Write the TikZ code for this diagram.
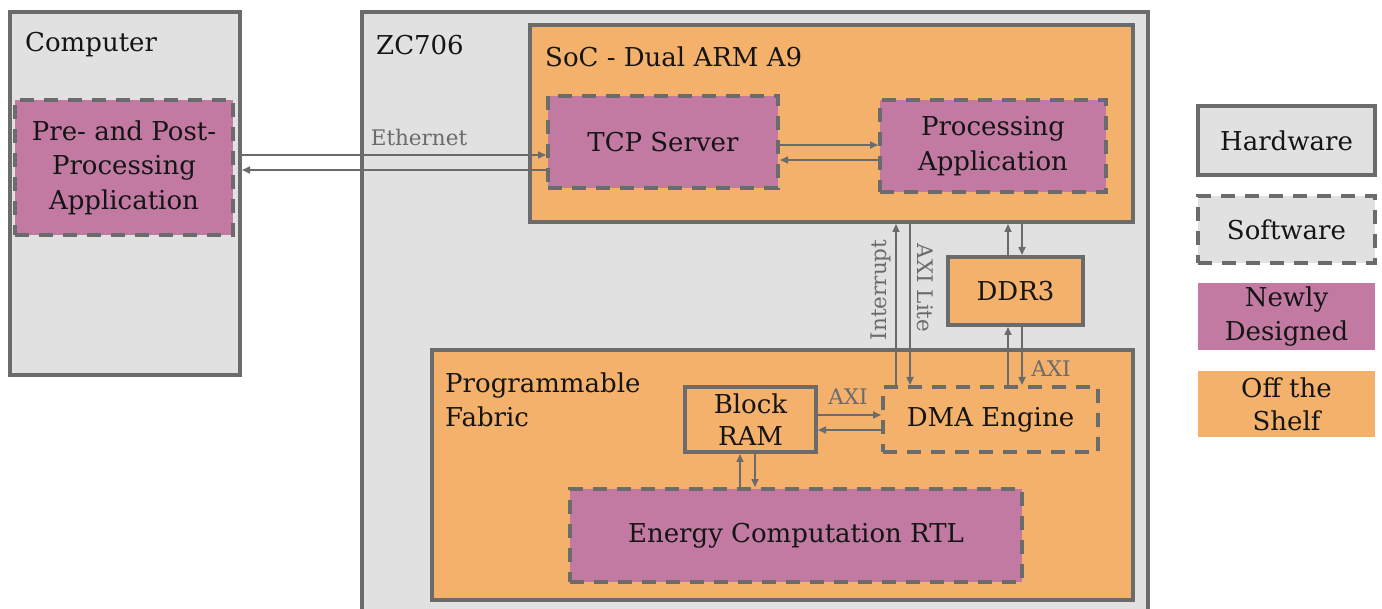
\documentclass[tikz,border=0pt]{standalone}
\usepackage{fontspec}
\setmainfont{DejaVu Serif}
\usetikzlibrary{arrows.meta}
\definecolor{hwgray}{HTML}{E1E1E1}
\definecolor{edge}{HTML}{6B6B6B}
\definecolor{orng}{HTML}{F4B16B}
\definecolor{purp}{HTML}{C27AA2}
\definecolor{txt}{HTML}{151515}
\begin{document}
\begin{tikzpicture}[x=1pt,y=-1pt,
  box/.style={line width=4pt, inner sep=0pt, align=center, text=txt, font=\fontsize{26}{34.5}\selectfont},
  hw/.style={box, draw=edge},
  sw/.style={box, draw=edge, dash pattern=on 14pt off 10pt},
  title/.style={anchor=west, text=txt, font=\fontsize{26}{34}\selectfont, inner sep=0pt, align=left},
  arr/.style={draw=edge, line width=1.6pt, -{Triangle[length=8pt,width=7pt]}},
  lbl/.style={text=edge, font=\fontsize{21.5}{24}\selectfont, inner sep=0pt}]
\useasboundingbox (0,0) rectangle (1382,609);
\fill[white] (0,0) rectangle (1382,609);
% Computer
\node[hw, fill=hwgray, minimum width=230pt, minimum height=363pt] (comp) at (125,193.5) {};
\node[title] (compt) at (25,45) {Computer};
\node[sw, fill=purp, minimum width=218pt, minimum height=135pt] (pre) at (124,167.5) {Pre- and Post-\\Processing\\Application};
% ZC706
\node[hw, fill=hwgray, minimum width=786pt, minimum height=608pt] (zc) at (755,316) {};
\node[title] (zct) at (376,45) {ZC706};
% SoC
\node[hw, fill=orng, minimum width=603pt, minimum height=197pt] (soc) at (831.5,123.5) {};
\node[title] (soct) at (545,57) {SoC - Dual ARM A9};
\node[sw, fill=purp, minimum width=230pt, minimum height=92pt] (tcp) at (663,142) {TCP Server};
\node[sw, fill=purp, minimum width=226pt, minimum height=92pt] (proc) at (993,146) {Processing\\Application};
% DDR3
\node[hw, fill=orng, minimum width=135pt, minimum height=68pt] (ddr) at (1015.5,291) {DDR3};
% Programmable fabric
\node[hw, fill=orng, minimum width=701pt, minimum height=250pt] (pf) at (782.5,475) {};
\node[title] (pft) at (445,400) {Programmable\\Fabric};
\node[hw, fill=orng, minimum width=131pt, minimum height=65pt, font=\fontsize{26}{32}\selectfont] (bram) at (750.5,419.5) {Block\\RAM};
\node[sw, fill=orng, minimum width=215pt, minimum height=65pt] (dma) at (990.5,419.5) {DMA Engine};
\node[sw, fill=purp, minimum width=452pt, minimum height=93pt] (rtl) at (796,535.5) {Energy Computation RTL};
% Legend
\node[hw, fill=hwgray, minimum width=177pt, minimum height=69pt] (lhw) at (1286.5,140.5) {Hardware};
\node[sw, fill=hwgray, minimum width=177pt, minimum height=67pt] (lsw) at (1286.5,229.5) {Software};
\node[box, fill=purp, minimum width=177pt, minimum height=67pt] (lnew) at (1286.5,316.5) {Newly\\Designed};
\node[box, fill=orng, minimum width=177pt, minimum height=66pt, font=\fontsize{26}{33}\selectfont] (loff) at (1286.5,404) {Off the\\Shelf};
% level coordinates
\coordinate (yE1) at (0,155); \coordinate (yE2) at (0,170);
\coordinate (yT1) at (0,145); \coordinate (yT2) at (0,160);
\coordinate (yB1) at (0,415); \coordinate (yB2) at (0,430);
\coordinate (xI) at (896,0); \coordinate (xL) at (910,0);
\coordinate (xD1) at (1008,0); \coordinate (xD2) at (1022,0);
\coordinate (xR1) at (740,0); \coordinate (xR2) at (755,0);
% Ethernet
\draw[arr] (comp.east |- yE1) -- (tcp.west |- yE1);
\draw[arr] (tcp.west |- yE2) -- (comp.east |- yE2);
\node[lbl] (eth) at (419,137) {Ethernet};
% TCP <-> Processing
\draw[arr] (tcp.east |- yT1) -- (proc.west |- yT1);
\draw[arr] (proc.west |- yT2) -- (tcp.east |- yT2);
% Interrupt / AXI Lite
\draw[arr] (dma.north -| xI) -- (soc.south -| xI);
\draw[arr] (soc.south -| xL) -- (dma.north -| xL);
\node[lbl, rotate=90] (intl) at (881,290) {Interrupt};
\node[lbl, rotate=-90] (axil) at (925,288) {AXI Lite};
% SoC <-> DDR3
\draw[arr] (ddr.north -| xD1) -- (soc.south -| xD1);
\draw[arr] (soc.south -| xD2) -- (ddr.north -| xD2);
% DDR3 <-> DMA
\draw[arr] (dma.north -| xD1) -- (ddr.south -| xD1);
\draw[arr] (ddr.south -| xD2) -- (dma.north -| xD2);
\node[lbl] (axi1) at (1051,369) {AXI};
% BRAM <-> DMA
\draw[arr] (bram.east |- yB1) -- (dma.west |- yB1);
\draw[arr] (dma.west |- yB2) -- (bram.east |- yB2);
\node[lbl] (axi2) at (848,397) {AXI};
% BRAM <-> RTL
\draw[arr] (rtl.north -| xR1) -- (bram.south -| xR1);
\draw[arr] (bram.south -| xR2) -- (rtl.north -| xR2);
\end{tikzpicture}
\end{document}
